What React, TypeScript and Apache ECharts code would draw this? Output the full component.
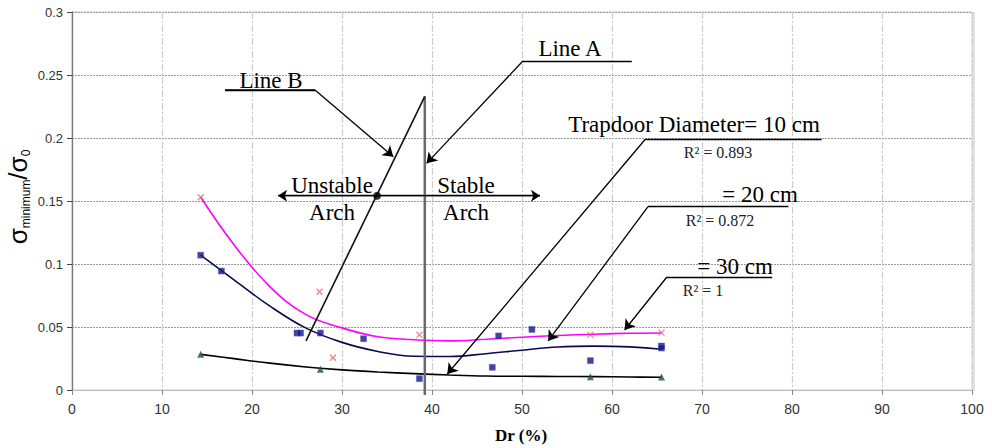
import React, { useEffect, useRef } from "react";
import * as echarts from "echarts";

// ---- Data ----
const xTickValues = [0, 10, 20, 30, 40, 50, 60, 70, 80, 90, 100];
const yTickValues = [0, 0.05, 0.1, 0.15, 0.2, 0.25, 0.3];

// measured points
const pts10cm: [number, number][] = [
  [14.3, 0.153], [27.5, 0.078], [29.0, 0.0256], [38.6, 0.0437], [57.6, 0.0437], [65.5, 0.0455],
];
const pts20cm: [number, number][] = [
  [14.3, 0.107], [16.6, 0.0944], [25.0, 0.0452], [25.4, 0.0452], [27.6, 0.0452], [32.4, 0.0407],
  [38.6, 0.009], [46.7, 0.018], [47.4, 0.0429], [51.1, 0.0481], [57.6, 0.0233], [65.5, 0.0349], [65.5, 0.0333],
];
const pts30cm: [number, number][] = [
  [14.3, 0.0283], [27.6, 0.0164], [57.6, 0.0106], [65.5, 0.0103],
];

// trend lines
const trendX = [14.3, 18, 22, 26, 30, 34, 38, 42, 46, 50, 54, 58, 62, 65.5];
const trendMagenta = [0.153, 0.1153, 0.0819, 0.0598, 0.0493, 0.0422, 0.0399, 0.039, 0.0403, 0.0419, 0.0433, 0.0443, 0.045, 0.0452];
const trendNavy = [0.107, 0.0874, 0.0665, 0.0491, 0.0378, 0.0306, 0.0268, 0.0266, 0.0288, 0.0316, 0.0341, 0.0348, 0.0342, 0.0323];
const trendBlack = [0.0283, 0.0249, 0.0213, 0.0183, 0.016, 0.0143, 0.013, 0.0119, 0.0111, 0.0109, 0.0107, 0.0106, 0.0103, 0.0101];

// Line A (vertical) and Line B (inclined)
const lineA: [number, number][] = [[39.2, -0.004], [39.2, 0.233]];
const lineB: [number, number][] = [[26.0, 0.039], [39.2, 0.233]];
const archPoint: [number, number][] = [[33.9, 0.1542]];
const archArrow: [number, number][] = [[22.9, 0.1542], [52.0, 0.1542]];

// annotation leaders: [start, tip]
const leaders: [number, number][][] = [
  [[27.0, 0.2381], [35.7, 0.1852]], // Line B
  [[50.1, 0.2611], [39.4, 0.1799]], // Line A
  [[63.7, 0.199], [41.7, 0.0127]], // 10 cm
  [[64.0, 0.1455], [52.9, 0.0389]], // 20 cm
  [[66.1, 0.0897], [61.4, 0.0476]], // 30 cm
];
const underlines: [number, number][][] = [
  [[17.0, 0.2381], [27.0, 0.2381]],
  [[50.1, 0.2611], [62.2, 0.2611]],
  [[63.7, 0.199], [83.3, 0.199]],
  [[64.0, 0.1455], [79.6, 0.1455]],
  [[66.1, 0.0897], [77.8, 0.0897]],
];

const SERIF = "'Liberation Serif', 'Times New Roman', serif";
const SANS = "'Liberation Sans', Arial, sans-serif";

const zip = (ys: number[]) => trendX.map((x, i) => [x, ys[i]]);

export default function App() {
  const ref = useRef<HTMLDivElement>(null);
  useEffect(() => {
    document.body.style.margin = "0";
    const chart = echarts.init(ref.current!, undefined, { renderer: "svg" });
    const txt = (text: string, x: number, y: number, size = 23, extra: any = {}) => ({
      type: "text",
      x,
      y,
      silent: true,
      z: 100,
      style: {
        text,
        fontFamily: SERIF,
        fontSize: size,
        fill: "#000",
        align: "center",
        verticalAlign: "middle",
        ...extra,
      },
    });
    const markLineBase = {
      silent: true,
      animation: false,
      label: { show: false },
      emphasis: { disabled: true },
      itemStyle: { color: "#000" },
      lineStyle: { color: "#000", width: 1.3, type: "solid" },
    };
    const trend = (name: string, ys: number[], color: string) => ({
      name,
      type: "line",
      data: zip(ys),
      smooth: 0.4,
      symbol: "none",
      lineStyle: { color, width: 1.6 },
      silent: true,
      z: 3,
    });
    const option: any = {
      animation: false,
      backgroundColor: "#fff",
      grid: {
        left: 72,
        right: 20,
        top: 12,
        bottom: 58,
        show: true,
        borderColor: "#cfcfcf",
        borderWidth: 1,
        outerBoundsMode: "none",
        containLabel: false,
      },
      xAxis: {
        type: "value",
        min: 0,
        max: 100,
        interval: 10,
        axisLine: { show: true, lineStyle: { color: "#bdbdbd", width: 1 } },
        axisTick: { show: true, length: 5, lineStyle: { color: "#888" } },
        axisLabel: {
          color: "#333",
          fontFamily: SANS,
          fontSize: 14,
          margin: 12,
          formatter: (v: number) => (xTickValues.includes(v) ? String(v) : ""),
        },
        splitLine: {
          show: true,
          lineStyle: { color: "#cdcdcd", type: [7, 2, 2, 2], width: 1.2 },
        },
      },
      yAxis: {
        type: "value",
        min: 0,
        max: 0.3,
        interval: 0.05,
        axisLine: { show: true, lineStyle: { color: "#7a7a7a", width: 1.3 } },
        axisTick: { show: true, inside: false, length: 5, lineStyle: { color: "#444" } },
        axisLabel: {
          color: "#333",
          fontFamily: SANS,
          fontSize: 13,
          margin: 9,
          formatter: (v: number) => {
            const t = yTickValues.find((k) => Math.abs(k - v) < 1e-9);
            return t === undefined ? "" : String(t);
          },
        },
        splitLine: {
          show: true,
          lineStyle: { color: "#9a9a9a", type: [2, 1], width: 1 },
        },
      },
      graphic: [
        { type: "rect", shape: { x: 972, y: 12, width: 3, height: 379 }, style: { fill: "#e2e2e2" }, silent: true },
        txt("Line B", 271, 80),
        txt("Line A", 570, 48),
        txt("Unstable", 332, 185),
        txt("Arch", 332, 212),
        txt("Stable", 466, 185),
        txt("Arch", 466, 212),
        txt("Trapdoor Diameter= 10 cm", 694, 124),
        txt("R² = 0.893", 718, 152, 16, { fill: "#222" }),
        txt("= 20 cm", 760, 194),
        txt("R² = 0.872", 720, 220, 16, { fill: "#222" }),
        txt("= 30 cm", 735, 266),
        txt("R² = 1", 703, 290, 16, { fill: "#222" }),
        txt("Dr (%)", 521, 435, 17, { fontWeight: "bold" }),
        {
          type: "text",
          x: 18,
          y: 197,
          rotation: Math.PI / 2,
          silent: true,
          style: {
            text: "{s|σ}{sub|minimum}{s|/σ}{sub|0}",
            align: "center",
            verticalAlign: "middle",
            fill: "#000",
            rich: {
              s: { fontFamily: SANS, fontSize: 26, fill: "#000", lineHeight: 28, verticalAlign: "middle" },
              sub: { fontFamily: SANS, fontSize: 12, fill: "#000", lineHeight: 28, verticalAlign: "bottom" },
            },
          },
        },
      ],
      series: [
        trend("trend10", trendMagenta, "#ff00ff"),
        trend("trend20", trendNavy, "#0a0a4a"),
        trend("trend30", trendBlack, "#000000"),
        {
          name: "10 cm",
          type: "scatter",
          data: pts10cm,
          symbol: "path://M0,0L10,10M10,0L0,10",
          symbolSize: 6,
          itemStyle: { color: "none", borderColor: "#e06464", borderWidth: 1.2 },
          z: 4,
        },
        {
          name: "20 cm",
          type: "scatter",
          data: pts20cm,
          symbol: "rect",
          symbolSize: 6,
          itemStyle: { color: "#14148a", borderColor: "#5060b0", borderWidth: 0.6 },
          z: 4,
        },
        {
          name: "30 cm",
          type: "scatter",
          data: pts30cm,
          symbol: "triangle",
          symbolSize: 7,
          itemStyle: { color: "#1f4d4d" },
          z: 4,
        },
        {
          name: "Line A",
          type: "line",
          data: lineA,
          symbol: "none",
          clip: false,
          lineStyle: { color: "#6a6a6a", width: 2.5 },
          silent: true,
          z: 5,
        },
        {
          name: "Line B",
          type: "line",
          data: lineB,
          symbol: "none",
          lineStyle: { color: "#111", width: 1.6 },
          silent: true,
          z: 5,
          markLine: {
            ...markLineBase,
            symbol: ["none", "arrow"],
            symbolSize: 10,
            data: leaders.map(([a, b]) => [{ coord: a }, { coord: b }]),
          },
        },
        {
          name: "Arch arrow",
          type: "line",
          data: archArrow,
          symbol: "none",
          lineStyle: { color: "#000", width: 1.3 },
          silent: true,
          z: 5,
          markLine: {
            ...markLineBase,
            symbol: ["arrow", "arrow"],
            symbolSize: 9,
            data: [[{ coord: archArrow[0] }, { coord: archArrow[1] }]],
          },
        },
        {
          name: "underlines",
          type: "line",
          data: underlines[0],
          symbol: "none",
          lineStyle: { color: "#000", width: 1.3 },
          silent: true,
          z: 5,
          markLine: {
            ...markLineBase,
            symbol: ["none", "none"],
            data: underlines.map(([a, b]) => [{ coord: a }, { coord: b }]),
          },
        },
        {
          name: "archPoint",
          type: "scatter",
          data: archPoint,
          symbol: "circle",
          symbolSize: 8,
          itemStyle: { color: "#000" },
          silent: true,
          z: 7,
        },
      ],
    };
    chart.setOption(option);
    return () => chart.dispose();
  }, []);
  return <div ref={ref} style={{ width: 992, height: 448 }} />;
}
